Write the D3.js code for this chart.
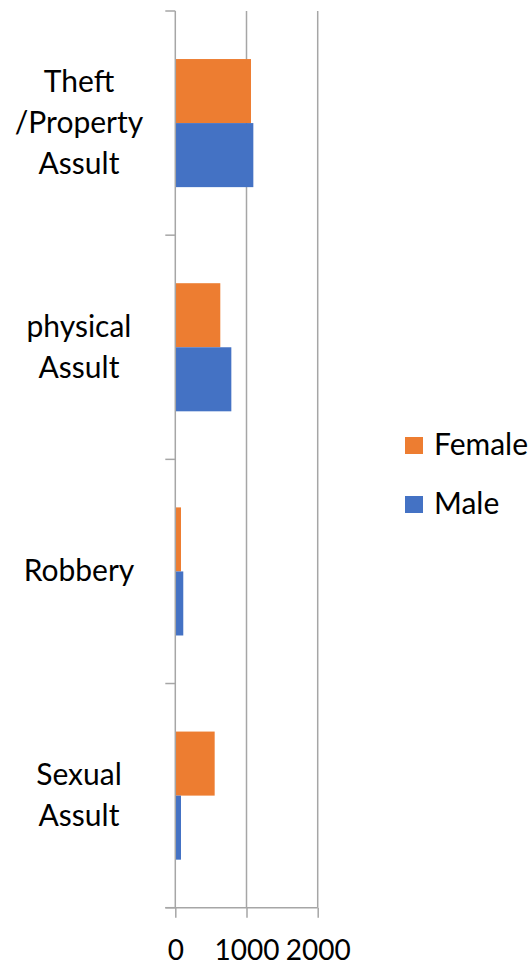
<!DOCTYPE html>
<html>
<head>
<meta charset="utf-8">
<script src="https://cdn.jsdelivr.net/npm/d3@7"></script>
<style>
  body { margin: 0; background: #fff; }
  text { font-family: Lato, "Open Sans", sans-serif; fill: #000; }
</style>
</head>
<body>
<div id="chart"></div>
<script>
var width = 532
var height = 966

// data
var categories = ['Theft\n/Property\nAssult', 'physical\nAssult', 'Robbery', 'Sexual\nAssult']
var series = ['Female', 'Male']
var female = [1063, 632, 80, 553]
var male = [1096, 787, 112, 80]
var xTicks = [0, 1000, 2000]
var colors = ['#ED7D31', '#4472C4']

var plotLeft = 175.3, plotRight = 317.7, plotTop = 11, plotBottom = 907.7

var svg = d3.select('#chart').append('svg').attr('width', width).attr('height', height)

var x = d3.scaleLinear().domain([0, 2000]).range([plotLeft, plotRight])
var y0 = d3.scaleBand().domain(categories).range([plotTop, plotBottom]).padding(0)
var y1 = d3.scaleBand().domain(series).range([0, y0.bandwidth()]).paddingInner(0).paddingOuter(0.75)
var color = d3.scaleOrdinal().domain(series).range(colors)

// gridlines
svg.append('g')
  .selectAll('line')
  .data(xTicks.slice(1))
  .enter()
  .append('line')
  .attr('x1', d => x(d)).attr('x2', d => x(d))
  .attr('y1', plotTop).attr('y2', plotBottom)
  .attr('stroke', '#a6a6a6')
  .attr('stroke-width', 1.5)

// bars
var rows = categories.map((c, i) => ({ cat: c, values: [female[i], male[i]] }))
var group = svg.selectAll('.grp')
  .data(rows)
  .enter()
  .append('g')
  .attr('transform', d => `translate(0, ${y0(d.cat)})`)

group.selectAll('rect')
  .data(d => d.values.map((v, i) => ({ key: series[i], value: v })))
  .enter()
  .append('rect')
  .attr('x', x(0))
  .attr('y', d => y1(d.key))
  .attr('width', d => x(d.value) - x(0))
  .attr('height', y1.bandwidth())
  .attr('fill', d => color(d.key))

// left axis with ticks between categories
var yAxis = svg.append('g')
yAxis.append('line')
  .attr('x1', plotLeft).attr('x2', plotLeft)
  .attr('y1', plotTop).attr('y2', plotBottom)
  .attr('stroke', '#a6a6a6').attr('stroke-width', 1.5)
var bounds = categories.map(c => y0(c)).concat([plotBottom])
yAxis.selectAll('.tk')
  .data(bounds)
  .enter()
  .append('line')
  .attr('x1', plotLeft - 10).attr('x2', plotLeft)
  .attr('y1', d => d).attr('y2', d => d)
  .attr('stroke', '#a6a6a6').attr('stroke-width', 1.5)

// category labels
var fs = 30
var lineH = 41
yAxis.selectAll('.lbl')
  .data(categories)
  .enter()
  .append('text')
  .attr('text-anchor', 'middle')
  .attr('font-size', fs)
  .each(function (d) {
    var lines = d.split('\n')
    var cy = y0(d) + y0.bandwidth() / 2
    var first = cy - (lines.length - 1) * lineH / 2 + 10
    d3.select(this).selectAll('tspan')
      .data(lines)
      .enter()
      .append('tspan')
      .attr('x', 79)
      .attr('y', (l, i) => first + i * lineH)
      .text(l => l)
  })

// bottom axis
var xAxis = svg.append('g')
  .attr('transform', `translate(0, ${plotBottom})`)
  .call(d3.axisBottom(x).tickValues(xTicks).tickFormat(d3.format('d')).tickSize(10).tickSizeOuter(0).tickPadding(22))
xAxis.select('.domain')
  .attr('d', `M${plotLeft - 10},0H${plotRight}`)
  .attr('stroke', '#a6a6a6').attr('stroke-width', 1.5)
xAxis.selectAll('.tick line').attr('stroke', '#a6a6a6').attr('stroke-width', 1.5)
xAxis.selectAll('.tick text')
  .attr('font-size', 28)
  .attr('font-family', 'Lato, sans-serif')
  .attr('fill', '#000')

// legend
var legend = svg.selectAll('.legend')
  .data(series)
  .enter()
  .append('g')
  .attr('transform', (d, i) => `translate(405, ${437 + i * 59})`)
legend.append('rect')
  .attr('width', 18).attr('height', 17)
  .attr('fill', d => color(d))
legend.append('text')
  .attr('x', 29).attr('y', 18)
  .attr('font-size', fs)
  .text(d => d)
</script>
</body>
</html>
